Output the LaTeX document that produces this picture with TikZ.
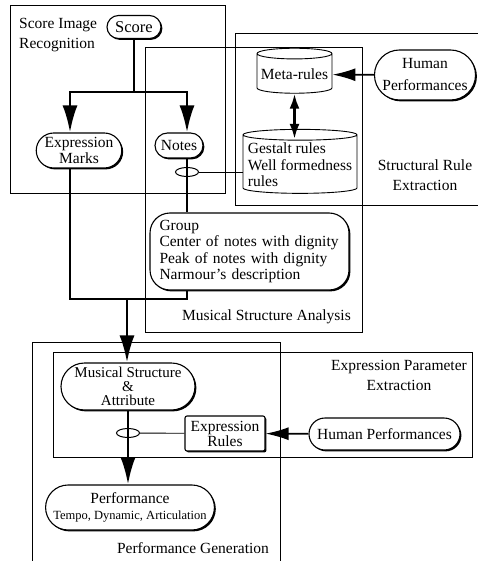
\documentclass[tikz,border=0pt]{standalone}
\usepackage{fontspec}
\setmainfont{Liberation Serif}
\usetikzlibrary{positioning, arrows.meta, shapes.misc, shapes.geometric, shadows}
\tikzset{
base/.style={
  font=\fontsize{15.5}{16.5}\selectfont
  },
pill/.style={
  base,
  draw, 
  rounded rectangle, 
  fill=white, 
  line width=1.1pt, 
  inner sep=2pt, align=center,
  drop shadow={shadow xshift=1.4pt, shadow yshift=-1.4pt, fill=black, opacity=1}
  },
card/.style={
  base,
  draw, 
  rectangle, 
  rounded corners=20pt, 
  fill=white, 
  line width=1.1pt, 
  inner xsep=9.5pt, align=left,
  drop shadow={shadow xshift=1.4pt, shadow yshift=-1.4pt, fill=black, opacity=1}
  },
rulebox/.style={
  base,
  draw, 
  rectangle, 
  rounded corners=2pt, 
  fill=white, 
  line width=1.1pt, 
  inner sep=1pt, align=center,
  drop shadow={shadow xshift=1.4pt, shadow yshift=-1.4pt, fill=black, opacity=1}
  },
drum/.style={
  base,
  draw, 
  cylinder, 
  shape border rotate=90, 
  fill=white, 
  line width=0.9pt, 
  inner sep=2pt
  },
ring/.style={draw, ellipse, line width=1pt, minimum width=23pt, minimum height=9pt, inner sep=0pt},
tag/.style={base, font=\fontsize{15.5}{20}\selectfont, inner sep=0pt},
panel/.style={draw, line width=0.8pt},
wire/.style={line width=0.9pt},
bus/.style={line width=2.6pt},
flow/.style={line width=2.6pt, -{Latex[length=27pt,width=15pt]}},
feed/.style={line width=1.6pt, -{Latex[length=23pt,width=13pt]}},
both/.style={line width=2.6pt, {Latex[length=15pt,width=10pt]}-{Latex[length=15pt,width=10pt]}}
}
\begin{document}
\begin{tikzpicture}[x=1pt, y=-1pt]
\useasboundingbox (0,0) rectangle (478,561);

% areas
\draw[panel] (10,5) rectangle (225,193);
\draw[panel] (145,47) rectangle (362,332);
\draw[panel] (478,33) -- (235,33) -- (235,205) -- (478,205);
\draw[panel] (32,561) -- (32,342) -- (280,342) -- (280,561);
\draw[panel] (53,352) rectangle (472,457);

\node[tag, anchor=west, align=left]	(sirlabel)	at (19,35)		{Score Image\\Recognition};
\node[tag, align=center]		(srelabel)	at (425,175)		{Structural Rule\\Extraction};
\node[tag, anchor=east]			(msalabel)	at (351,317)		{Musical Structure Analysis};
\node[tag, align=center]		(epelabel)	at (399,375)		{Expression Parameter\\Extraction};
\node[tag]				(pglabel)	at (193,548)		{Performance Generation};

% nodes
\node[pill, minimum width=58pt, minimum height=23pt, font=\fontsize{16.5}{17}\selectfont]	(score)	at (134,27)	{Score};
\node[pill, minimum width=84pt, minimum height=35pt]	(emarks)	at (79,150.5)	{Expression\\Marks};
\node[pill, minimum width=52pt, minimum height=25pt]	(notes)		at (179,145.5)	{Notes};
\node[card, text width=180pt, minimum height=77pt]	(group)		at (249.5,251.5)	{Group\\Center of notes with dignity\\Peak of notes with dignity\\Narmour's description};
\node[drum, minimum width=75pt, minimum height=45pt, aspect=0.15]	(meta)	at (294.5,74.5)	{Meta-rules};
\node[drum, minimum width=114pt, minimum height=64pt, aspect=0.1, align=left]	(gestalt)	at (300,165)	{Gestalt rules\\Well formedness\\rules};
\node[pill, minimum width=100pt, minimum height=50pt, font=\fontsize{15.5}{22}\selectfont]	(hperfa)	at (425,75)	{Human\\Performances};
\node[pill, minimum width=136pt, minimum height=47pt, inner sep=1pt, font=\fontsize{15}{14}\selectfont]	(mstruct)	at (128,386.5)	{Musical Structure\\\&\\Attribute};
\node[rulebox, minimum width=80pt, minimum height=35pt, font=\fontsize{15.5}{15}\selectfont]	(exprules)	at (225,433.5)	{Expression\\Rules};
\node[pill, minimum width=155pt, minimum height=32pt]	(hperfb)	at (384.5,434)	{Human Performances};
\node[pill, minimum width=164pt, minimum height=45pt]	(perf)		at (130,507.5)	{Performance\\{\fontsize{12.5}{13}\selectfont Tempo, Dynamic, Articulation}};

\coordinate (fork) at (134,92);
\coordinate (join) at (127,299);

% connectors
\draw[bus]	(score.south)	--	(fork);
\draw[flow]	(fork)		-|	([xshift=-9pt]emarks.north);
\draw[flow]	(fork)		-|	([xshift=8pt]notes.north);
\draw[bus]	([xshift=8pt]notes.south)	--	([xshift=8pt]notes.south |- group.north);
\node[ring]	(ringa)	at (187,172)	{};
\draw[wire]	(ringa)		--	(ringa -| gestalt.west);
\draw[bus]	([xshift=-9pt]emarks.south)	|-	(join);
\draw[bus]	(ringa |- group.south)	|-	(join);
\draw[flow]	(join)		--	(join |- mstruct.north);
\draw[feed]	(hperfa)	--	(meta);
\draw[both]	(meta.south)	--	([yshift=-10pt]meta.south |- gestalt.north);
\draw[flow]	(mstruct.south)	--	(mstruct.south |- perf.north);
\node[ring]	(ringb)	at (128,433)	{};
\draw[wire]	(ringb)		--	(exprules);
\draw[feed]	(hperfb)	--	(exprules);
\end{tikzpicture}
\end{document}
